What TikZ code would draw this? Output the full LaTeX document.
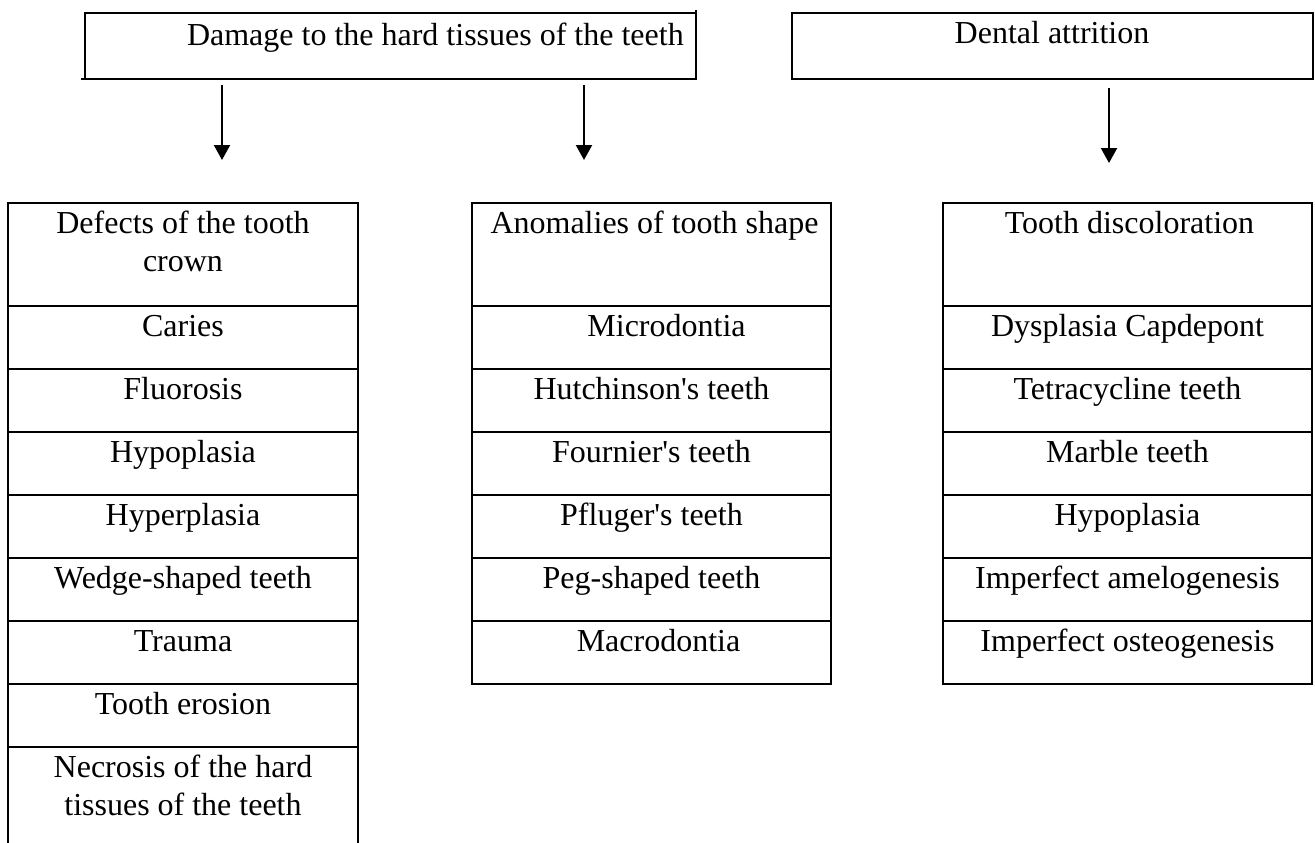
\documentclass[tikz,border=0pt]{standalone}
\usepackage{fontspec}
\setmainfont{Liberation Serif}[Ligatures=TeXOff]
\usetikzlibrary{arrows.meta}
\newcommand\cellfont{\fontsize{32}{38}\selectfont}
\newcommand\tcell[7]{%
  \node[cellbox, minimum width=#4pt, minimum height=#5pt] (#1) at (#2,#3) {};
  \node[txt, xshift=#7pt] (#1t) at ([yshift=-3.4pt]#1.north) {\strut #6};
}
\begin{document}
\begin{tikzpicture}[x=1pt,y=-1pt,
  cellbox/.style={draw, line width=2.4pt, inner sep=0pt, outer sep=0pt, anchor=north west},
  txt/.style={inner sep=0pt, outer sep=0pt, anchor=north, align=center, font=\cellfont},
  arr/.style={-{Triangle[length=15pt,width=16pt]}, line width=2.2pt}]
\useasboundingbox (0,0) rectangle (1315,843);
\fill[white] (0,0) rectangle (1315,843);
\clip (0,0) rectangle (1315,843);

% top boxes
\node[cellbox, minimum width=611pt, minimum height=66pt] (top1) at (85,13) {};
\node[txt, anchor=base west] (top1t) at (187,46) {Damage to the hard tissues of the teeth};
\coordinate (t1a) at (81,79);
\coordinate (t1b) at (696,10);
\draw[line width=2.4pt] (t1a) -- (top1.south west);
\draw[line width=2.4pt] (t1b) -- (top1.north east);

\node[cellbox, minimum width=521pt, minimum height=66pt] (top2) at (792,13) {};
\node[txt, anchor=base] (top2t) at (1052,44) {Dental attrition};

% arrows
\coordinate (a1s) at (222,85);  \coordinate (a1e) at (222,160);
\coordinate (a2s) at (584,85);  \coordinate (a2e) at (584,160);
\coordinate (a3s) at (1109,88); \coordinate (a3e) at (1109,163);
\draw[arr] (a1s) -- (a1e);
\draw[arr] (a2s) -- (a2e);
\draw[arr] (a3s) -- (a3e);

% left table
\tcell{L0}{8}{203}{350}{103}{Defects of the tooth\\\strut crown}{0}
\tcell{L1}{8}{306}{350}{63}{Caries}{0}
\tcell{L2}{8}{369}{350}{63}{Fluorosis}{0}
\tcell{L3}{8}{432}{350}{63}{Hypoplasia}{0}
\tcell{L4}{8}{495}{350}{63}{Hyperplasia}{0}
\tcell{L5}{8}{558}{350}{63}{Wedge-shaped teeth}{0}
\tcell{L6}{8}{621}{350}{63}{Trauma}{0}
\tcell{L7}{8}{684}{350}{63}{Tooth erosion}{0}
\tcell{L8}{8}{747}{350}{115}{Necrosis of the hard\\\strut tissues of the teeth}{0}

% middle table
\tcell{M0}{472}{203}{359}{103}{Anomalies of tooth shape}{3}
\tcell{M1}{472}{306}{359}{63}{Microdontia}{15}
\tcell{M2}{472}{369}{359}{63}{Hutchinson's teeth}{0}
\tcell{M3}{472}{432}{359}{63}{Fournier's teeth}{0}
\tcell{M4}{472}{495}{359}{63}{Pfluger's teeth}{0}
\tcell{M5}{472}{558}{359}{63}{Peg-shaped teeth}{0}
\tcell{M6}{472}{621}{359}{63}{Macrodontia}{7}

% right table
\tcell{R0}{943}{203}{369}{103}{Tooth discoloration}{2}
\tcell{R1}{943}{306}{369}{63}{Dysplasia Capdepont}{0}
\tcell{R2}{943}{369}{369}{63}{Tetracycline teeth}{0}
\tcell{R3}{943}{432}{369}{63}{Marble teeth}{0}
\tcell{R4}{943}{495}{369}{63}{Hypoplasia}{0}
\tcell{R5}{943}{558}{369}{63}{Imperfect amelogenesis}{0}
\tcell{R6}{943}{621}{369}{63}{Imperfect osteogenesis}{0}
\end{tikzpicture}
\end{document}
